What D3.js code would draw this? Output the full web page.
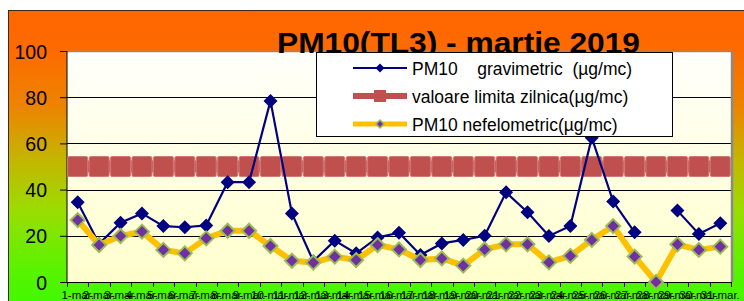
<!DOCTYPE html>
<html><head><meta charset="utf-8">
<script src="https://cdn.jsdelivr.net/npm/d3@7"></script>
<style>html,body{margin:0;padding:0;background:#fff;overflow:hidden}svg{display:block}text{font-family:Arial,"Liberation Sans",sans-serif}</style>
</head><body>
<svg id="c" width="744" height="301"></svg>
<script>
const categories = ["1-mar.","2-mar.","3-mar.","4-mar.","5-mar.","6-mar.","7-mar.","8-mar.","9-mar.","10-mar.","11-mar.","12-mar.","13-mar.","14-mar.","15-mar.","16-mar.","17-mar.","18-mar.","19-mar.","20-mar.","21-mar.","22-mar.","23-mar.","24-mar.","25-mar.","26-mar.","27-mar.","28-mar.","29-mar.","30-mar.","31-mar."];
const gravimetric = [34.5,16.5,25.7,29.7,24.2,23.7,24.5,43.2,43.2,78.4,29.7,9.0,17.9,12.4,19.3,21.3,11.7,16.7,18.2,20.0,38.8,30.2,19.9,24.2,62.5,34.8,21.5,null,30.9,20.8,25.4];
const limita = [50,50,50,50,50,50,50,50,50,50,50,50,50,50,50,50,50,50,50,50,50,50,50,50,50,50,50,50,50,50,50];
const nefelometric = [26.8,16.0,19.9,21.8,13.9,12.4,18.9,22.2,22.2,15.6,9.2,8.4,11.0,9.5,16.0,14.1,9.5,10.2,7.1,14.1,16.3,16.3,8.5,11.3,18.2,24.2,11.0,0,16.3,13.9,15.3];
const yTicks = [0,20,40,60,80,100];
const title = "PM10(TL3) - martie 2019";
const legendLabels = ["PM10    gravimetric  (\u00b5g/mc)","valoare limita zilnica(\u00b5g/mc)","PM10 nefelometric(\u00b5g/mc)"];

const svg = d3.select("#c");
const defs = svg.append("defs");
const bg = defs.append("linearGradient").attr("id","bg").attr("x1",0).attr("y1",0).attr("x2",0).attr("y2",1);
[[0,"#ff6600"],[0.12,"#fe6a00"],[0.3,"#ec8400"],[0.46,"#c6b400"],[0.62,"#9cdc00"],[0.8,"#5cf200"],[1,"#2cff00"]]
  .forEach(([o,c])=>bg.append("stop").attr("offset",o).attr("stop-color",c));
const pg = defs.append("linearGradient").attr("id","pg").attr("x1",0).attr("y1",0).attr("x2",0).attr("y2",1);
pg.append("stop").attr("offset",0).attr("stop-color","#fffffb");
pg.append("stop").attr("offset",1).attr("stop-color","#ffffcc");

svg.append("rect").attr("x",8.5).attr("y",10.5).attr("width",760).attr("height",320)
  .attr("fill","url(#bg)").attr("stroke","#3a2a1a").attr("stroke-width",1);

const L = 67, R = 731, T = 51, B = 282;
const x = d3.scaleBand().domain(categories).range([L,R]).padding(0);
const y = d3.scaleLinear().domain([0,100]).range([B,T]);
const cx = d => x(d) + x.bandwidth()/2;

svg.append("rect").attr("x",L).attr("y",T).attr("width",R-L).attr("height",B-T).attr("fill","url(#pg)");
// grid
svg.append("g").selectAll("line").data(yTicks.filter(v=>v>0&&v<100)).join("line")
  .attr("x1",L).attr("x2",R).attr("y1",d=>Math.round(y(d))+0.5).attr("y2",d=>Math.round(y(d))+0.5)
  .attr("stroke","#000").attr("stroke-width",1);
// 3d borders
svg.append("line").attr("x1",L).attr("x2",R+1).attr("y1",T+0.5).attr("y2",T+0.5).attr("stroke","#8a8a8a").attr("stroke-width",1.5);
svg.append("line").attr("x1",R+1).attr("x2",R+1).attr("y1",T).attr("y2",B).attr("stroke","#8a8a8a").attr("stroke-width",2.5);

// y axis
const ya = svg.append("g").attr("transform",`translate(${L},0)`)
  .call(d3.axisLeft(y).tickValues(yTicks).tickSize(7).tickPadding(13).tickFormat(d3.format("d")));
ya.select(".domain").attr("stroke","#000").attr("d",`M0,${T}V${B}`);
ya.selectAll(".tick line").attr("stroke","#000");
ya.selectAll(".tick text").attr("font-size","19.5px").attr("fill","#000").attr("dy","0.36em")
  .attr("font-family","Arial,'Liberation Sans',sans-serif");

// x axis
const xa = svg.append("g").attr("transform",`translate(0,${B})`)
  .call(d3.axisBottom(x).tickSize(0).tickPadding(9));
xa.select(".domain").attr("stroke","#000").attr("d",`M${L-7},0.5H${R+1}`);
xa.selectAll(".tick text").attr("font-size","11.5px").attr("fill","#000")
  .attr("font-family","Arial,'Liberation Sans',sans-serif");
const bounds = categories.map(c=>x(c)).concat([R]);
xa.append("g").selectAll("line").data(bounds).join("line")
  .attr("x1",d=>Math.round(d)+0.5).attr("x2",d=>Math.round(d)+0.5).attr("y1",0).attr("y2",5).attr("stroke","#000");

// title (under legend)
svg.append("text").attr("x",277).attr("y",53).attr("font-size","29px").attr("font-weight","bold")
  .attr("textLength",363).attr("lengthAdjust","spacingAndGlyphs").attr("fill","#000").text(title);

const plot = svg.append("g");
// limit series
const lineGen = d3.line().defined(d=>d.v!=null).x(d=>cx(d.c)).y(d=>y(d.v));
const lim = categories.map((c,i)=>({c,v:limita[i]}));
plot.append("path").datum(lim).attr("d",lineGen).attr("fill","none").attr("stroke","#c0504d").attr("stroke-width",12);
plot.append("g").selectAll("rect").data(lim).join("rect")
  .attr("x",d=>cx(d.c)-10).attr("y",d=>y(d.v)-10).attr("width",20).attr("height",20).attr("rx",1.5)
  .attr("fill","#c0504d").attr("stroke","#d07a77").attr("stroke-width",1);

// gravimetric
const gr = categories.map((c,i)=>({c,v:gravimetric[i]}));
plot.append("path").datum(gr).attr("d",lineGen).attr("fill","none").attr("stroke","#000080").attr("stroke-width",2.2);
const diamond = s => `M0,${-s}L${s},0L0,${s}L${-s},0Z`;
plot.append("g").selectAll("path").data(gr.filter(d=>d.v!=null)).join("path")
  .attr("transform",d=>`translate(${cx(d.c)},${y(d.v)})`).attr("d",diamond(7)).attr("fill","#000080");

// nefelometric
const nf = categories.map((c,i)=>({c,v:nefelometric[i]}));
plot.append("path").datum(nf).attr("d",lineGen).attr("fill","none").attr("stroke","#ffc000").attr("stroke-width",6).attr("stroke-linejoin","round");
plot.append("g").selectAll("path").data(nf).join("path")
  .attr("transform",d=>`translate(${cx(d.c)},${y(d.v)})`).attr("d",diamond(7)).attr("fill","#7030a0")
  .attr("stroke","#9bbb59").attr("stroke-width",2);

// legend
const lg = svg.append("g");
lg.append("rect").attr("x",316.5).attr("y",52.5).attr("width",356).attr("height",84).attr("fill","#fff").attr("stroke","#000");
const rowsY = [68,96,124];
const lx1 = 353, lx2 = 407, lm = 380;
lg.append("line").attr("x1",lx1).attr("x2",lx2).attr("y1",rowsY[0]).attr("y2",rowsY[0]).attr("stroke","#000080").attr("stroke-width",2);
lg.append("path").attr("transform",`translate(${lm},${rowsY[0]})`).attr("d",diamond(4.5)).attr("fill","#000080");
lg.append("line").attr("x1",lx1).attr("x2",lx2).attr("y1",rowsY[1]).attr("y2",rowsY[1]).attr("stroke","#c0504d").attr("stroke-width",6);
lg.append("rect").attr("x",lm-6).attr("y",rowsY[1]-6).attr("width",12).attr("height",12).attr("fill","#c0504d");
lg.append("line").attr("x1",lx1).attr("x2",lx2).attr("y1",rowsY[2]).attr("y2",rowsY[2]).attr("stroke","#ffc000").attr("stroke-width",5);
lg.append("path").attr("transform",`translate(${lm},${rowsY[2]})`).attr("d",diamond(4)).attr("fill","#7030a0").attr("stroke","#9bbb59").attr("stroke-width",1.5);
lg.selectAll("text.l").data(legendLabels).join("text").attr("class","l")
  .attr("x",412).attr("y",(d,i)=>rowsY[i]+6.5).attr("font-size","17.5px").attr("fill","#000")
  .style("white-space","pre").attr("xml:space","preserve").text(d=>d);
</script>
</body></html>
